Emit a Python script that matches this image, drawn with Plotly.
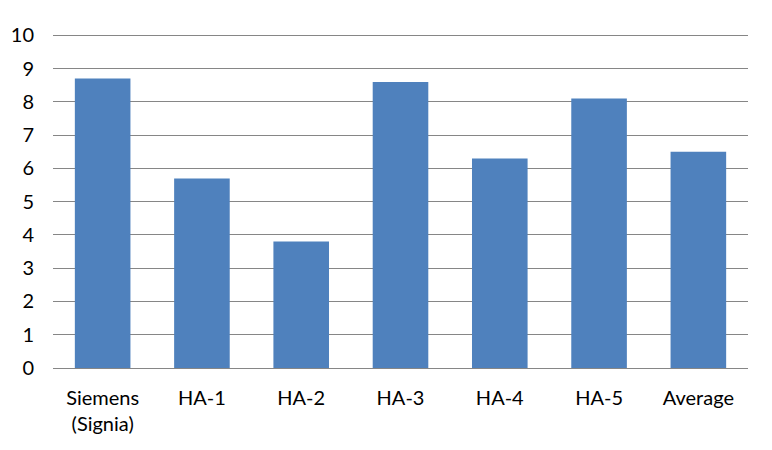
import plotly.graph_objects as go

categories = ["Siemens<br>(Signia)", "HA-1", "HA-2", "HA-3", "HA-4", "HA-5", "Average"]
values = [8.7, 5.7, 3.8, 8.6, 6.3, 8.1, 6.5]
y_ticks = [0, 1, 2, 3, 4, 5, 6, 7, 8, 9, 10]

fig = go.Figure(go.Bar(x=categories, y=values, marker=dict(color="#4F81BD", line=dict(width=0))))

# page body has an 8px default margin, compensate in figure size/margins
fig.update_layout(
    width=764, height=442,
    margin=dict(l=45, r=24, t=24, b=82),
    paper_bgcolor="white", plot_bgcolor="white",
    bargap=0.44,
    showlegend=False,
    font=dict(family="Lato, Open Sans, sans-serif", size=20, color="#000000"),
)
fig.update_xaxes(showgrid=False, showline=False, ticks="", ticklabelstandoff=16,
                 tickfont=dict(size=20), automargin=False)
fig.update_yaxes(range=[0, 10.1], tickvals=y_ticks, showgrid=True, gridcolor="#868686",
                 gridwidth=1, zeroline=True, zerolinecolor="#868686", zerolinewidth=1,
                 showline=False, ticks="", ticklabelstandoff=18, tickfont=dict(size=20),
                 automargin=False)

fig.write_html("out.html")
